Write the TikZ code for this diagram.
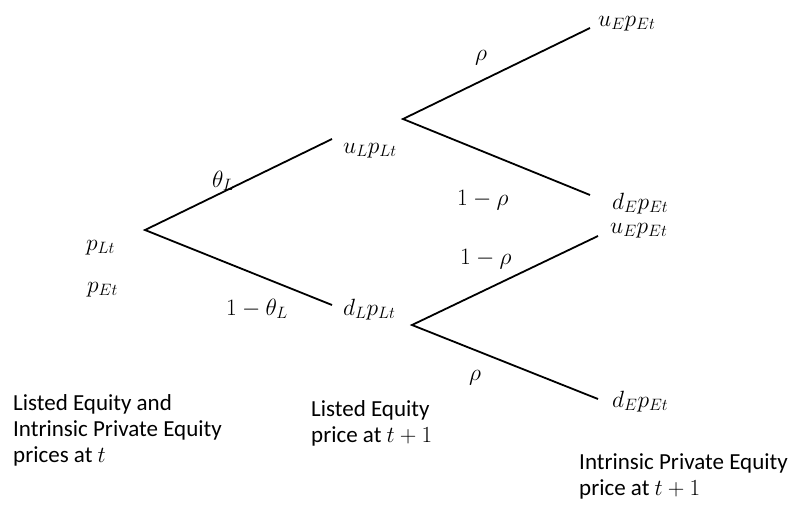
\RequirePackage{fix-cm}
\documentclass[tikz,border=0pt]{standalone}
\usepackage{fontspec}
\setmainfont{Carlito}
\begin{document}
\begin{tikzpicture}[x=1pt,y=-1pt,
  branch/.style={line width=1.8pt, black},
  lbl/.style={inner sep=0pt, anchor=base west, font=\fontsize{23.5}{26}\selectfont},
  captext/.style={inner sep=0pt, anchor=base west, align=left, font=\fontsize{23}{26}\selectfont}]
\useasboundingbox (0,0) rectangle (793,504);
% vertices and branch ends
\coordinate (v0) at (145,230);
\coordinate (a) at (332,139);
\coordinate (b) at (332,305);
\coordinate (c) at (403,119);
\coordinate (cu) at (590,28);
\coordinate (cd) at (590,195);
\coordinate (f) at (412,325);
\coordinate (fu) at (598,236);
\coordinate (fd) at (598,399);
\draw[branch] (a) -- (v0) -- (b);
\draw[branch] (cu) -- (c) -- (cd);
\draw[branch] (fu) -- (f) -- (fd);
% node values
\node[lbl] (plt) at (86,250) {$p_{Lt}$};
\node[lbl] (pet) at (87,292) {$p_{Et}$};
\node[lbl] (ul) at (343,153) {$u_L p_{Lt}$};
\node[lbl] (dl) at (343,315) {$d_L p_{Lt}$};
\node[lbl] (ue1) at (598,26) {$u_E p_{Et}$};
\node[lbl] (de1) at (612,209) {$d_E p_{Et}$};
\node[lbl] (ue2) at (610,233) {$u_E p_{Et}$};
\node[lbl] (de2) at (612,407) {$d_E p_{Et}$};
% probabilities
\node[lbl] (thl) at (212,187) {$\theta_L$};
\node[lbl] (mthl) at (226,315) {$1-\theta_L$};
\node[lbl] (rho1) at (475,60) {$\rho$};
\node[lbl] (mrho1) at (457,205) {$1-\rho$};
\node[lbl] (mrho2) at (460,264) {$1-\rho$};
\node[lbl] (rho2) at (469,380) {$\rho$};
% captions (anchor on baseline of last line)
\node[captext] (c0) at (13,462) {Listed Equity and\\Intrinsic Private Equity\\prices at $t$};
\node[captext] (c1) at (311,442) {Listed Equity\\price at $t+1$};
\node[captext] (c2) at (579,495) {Intrinsic Private Equity\\price at $t+1$};
\end{tikzpicture}
\end{document}
